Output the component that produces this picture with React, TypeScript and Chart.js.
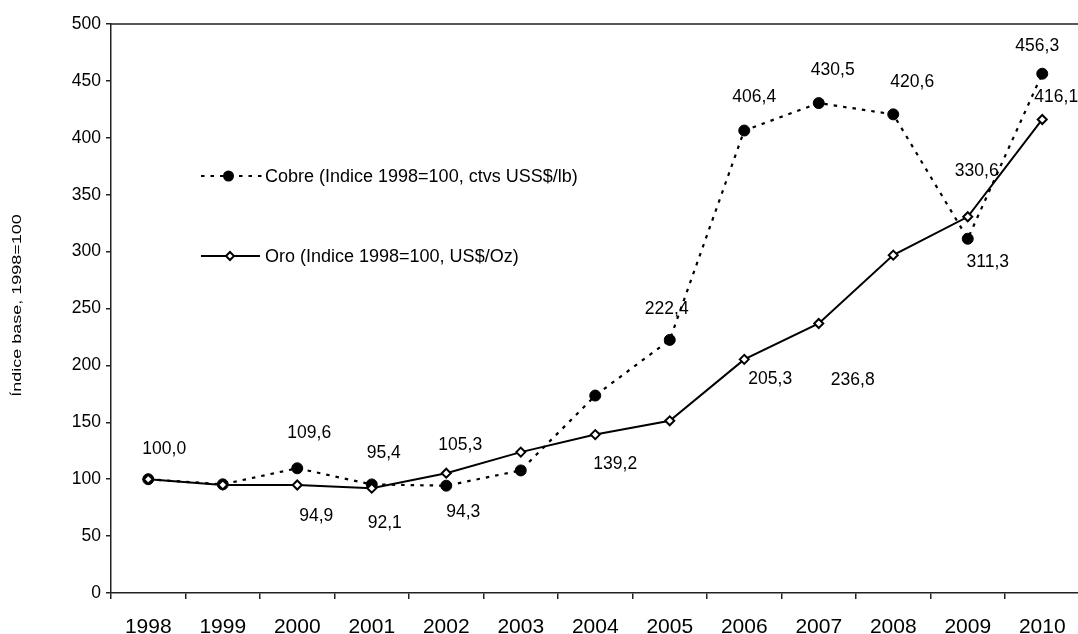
import React, { useEffect, useRef } from "react";
import { Chart, registerables } from "chart.js";

Chart.register(...registerables);

// Years on the category axis
const years = ["1998", "1999", "2000", "2001", "2002", "2003", "2004", "2005", "2006", "2007", "2008", "2009", "2010"];

// Copper price index (1998 = 100, US cents/lb)
const cobre = [100.0, 95.5, 109.6, 95.4, 94.3, 107.7, 173.5, 222.4, 406.4, 430.5, 420.6, 311.3, 456.3];

// Gold price index (1998 = 100, US$/oz)
const oro = [100.0, 95.0, 94.9, 92.1, 105.3, 123.8, 139.2, 151.3, 205.3, 236.8, 296.9, 330.6, 416.1];

// Y axis ticks
const yMin = 0;
const yMax = 500;
const yStep = 50;

// Where each value label sits relative to its point (null = no label)
const cobreLabelShift: ([number, number] | null)[] = [
  [16, -30], null, [12, -35], [12, -31], [17, 26], null, null,
  [-3, -31], [10, -33], [14, -33], [19, -32], [20, 23], [-5, -28],
];
const oroLabelShift: ([number, number] | null)[] = [
  null, null, [19, 31], [13, 35], [14, -28], null, [20, 30],
  null, [26, 20], [34, 57], null, [9, -46], [14, -22],
];

const FONT = '"Liberation Sans", Arial, sans-serif';
const INK = "#000";
const AXIS = "#222";

const fmt = (v: number) => v.toFixed(1).replace(".", ",");

const valueLabels = {
  id: "valueLabels",
  afterDatasetsDraw(chart: any) {
    const ctx = chart.ctx;
    ctx.save();
    ctx.font = `17.5px ${FONT}`;
    ctx.fillStyle = INK;
    ctx.textAlign = "center";
    ctx.textBaseline = "middle";
    const sets = [
      { idx: 0, values: cobre, shifts: cobreLabelShift },
      { idx: 1, values: oro, shifts: oroLabelShift },
    ];
    sets.forEach(({ idx, values, shifts }) => {
      const meta = chart.getDatasetMeta(idx);
      meta.data.forEach((pt: any, j: number) => {
        const s = shifts[j];
        if (!s) return;
        ctx.fillText(fmt(values[j]), pt.x + s[0], pt.y + s[1]);
      });
    });
    ctx.restore();
  },
};

const frameAndLegend = {
  id: "frameAndLegend",
  afterDraw(chart: any) {
    const ctx = chart.ctx;
    const a = chart.chartArea;
    ctx.save();

    // top and right edges of the plot frame
    ctx.strokeStyle = AXIS;
    ctx.lineWidth = 1.5;
    ctx.beginPath();
    ctx.moveTo(a.left, a.top);
    ctx.lineTo(a.right, a.top);
    ctx.lineTo(a.right, a.bottom);
    ctx.stroke();

    // y axis title, drawn narrow along its height
    ctx.save();
    ctx.translate(20.5, (a.top + a.bottom) / 2 - 3);
    ctx.rotate(-Math.PI / 2);
    ctx.scale(1, 0.76);
    ctx.font = `18px ${FONT}`;
    ctx.fillStyle = INK;
    ctx.textAlign = "center";
    ctx.textBaseline = "alphabetic";
    ctx.fillText("Índice base, 1998=100", 0, 0);
    ctx.restore();

    // legend inside the plot
    const lx = a.left + 90;
    const cy = a.top + 152;
    const oy = a.top + 232;
    ctx.strokeStyle = INK;
    ctx.fillStyle = INK;

    ctx.lineWidth = 2.2;
    ctx.setLineDash([3.5, 6]);
    ctx.beginPath();
    ctx.moveTo(lx, cy);
    ctx.lineTo(lx + 61, cy);
    ctx.stroke();
    ctx.setLineDash([]);
    ctx.beginPath();
    ctx.arc(lx + 27.5, cy, 5.5, 0, Math.PI * 2);
    ctx.fill();

    ctx.lineWidth = 2;
    ctx.beginPath();
    ctx.moveTo(lx, oy);
    ctx.lineTo(lx + 59, oy);
    ctx.stroke();
    const dx = lx + 29;
    const r = 4;
    ctx.beginPath();
    ctx.moveTo(dx - r, oy);
    ctx.lineTo(dx, oy - r);
    ctx.lineTo(dx + r, oy);
    ctx.lineTo(dx, oy + r);
    ctx.closePath();
    ctx.fillStyle = "#fff";
    ctx.fill();
    ctx.stroke();

    ctx.fillStyle = INK;
    ctx.font = `18px ${FONT}`;
    ctx.textAlign = "left";
    ctx.textBaseline = "middle";
    ctx.fillText("Cobre (Indice 1998=100, ctvs USS$/lb)", lx + 64, cy + 1);
    ctx.fillText("Oro (Indice 1998=100, US$/Oz)", lx + 64, oy + 1);

    ctx.restore();
  },
};

export default function App() {
  const ref = useRef<HTMLCanvasElement | null>(null);

  useEffect(() => {
    if (!ref.current) return;
    const chart = new Chart(ref.current, {
      type: "line",
      data: {
        labels: years,
        datasets: [
          {
            label: "Cobre (Indice 1998=100, ctvs USS$/lb)",
            data: cobre,
            borderColor: INK,
            borderWidth: 2.2,
            borderDash: [3.5, 6],
            tension: 0,
            fill: false,
            pointStyle: "circle",
            pointRadius: 5.5,
            pointBackgroundColor: INK,
            pointBorderColor: INK,
            pointBorderWidth: 1,
            order: 1,
          },
          {
            label: "Oro (Indice 1998=100, US$/Oz)",
            data: oro,
            borderColor: INK,
            borderWidth: 2,
            tension: 0,
            fill: false,
            pointStyle: "rectRot",
            pointRadius: 4.5,
            pointBackgroundColor: "#fff",
            pointBorderColor: INK,
            pointBorderWidth: 2,
            order: 0,
          },
        ],
      },
      options: {
        responsive: false,
        animation: false,
        devicePixelRatio: 1,
        layout: { padding: { top: 24, right: 10.5, left: 0, bottom: 0 } },
        plugins: {
          legend: { display: false },
          tooltip: { enabled: false },
        },
        scales: {
          x: {
            type: "category",
            offset: true,
            grid: {
              display: true,
              offset: true,
              drawOnChartArea: false,
              drawTicks: true,
              tickLength: 6,
              color: AXIS,
              lineWidth: 1.5,
            },
            border: { display: true, color: AXIS, width: 1.5 },
            ticks: {
              color: INK,
              font: { family: FONT, size: 21 },
              padding: 16,
              maxRotation: 0,
              autoSkip: false,
            },
            afterFit: (s: any) => {
              s.height = 41;
            },
          },
          y: {
            min: yMin,
            max: yMax,
            ticks: {
              stepSize: yStep,
              color: INK,
              font: { family: FONT, size: 17.5 },
              padding: 5,
            },
            grid: {
              display: true,
              drawOnChartArea: false,
              drawTicks: true,
              tickLength: 5,
              color: AXIS,
              lineWidth: 1.5,
            },
            border: { display: true, color: AXIS, width: 1.5 },
            afterFit: (s: any) => {
              s.width = 111;
            },
          },
        },
      },
      plugins: [valueLabels, frameAndLegend],
    });
    return () => chart.destroy();
  }, []);

  return (
    <div
      style={{
        position: "fixed",
        left: 0,
        top: 0,
        width: 1078,
        height: 634,
        overflow: "hidden",
        background: "#fff",
      }}
    >
      <canvas ref={ref} width={1090} height={634} style={{ display: "block", width: 1090, height: 634 }} />
    </div>
  );
}
